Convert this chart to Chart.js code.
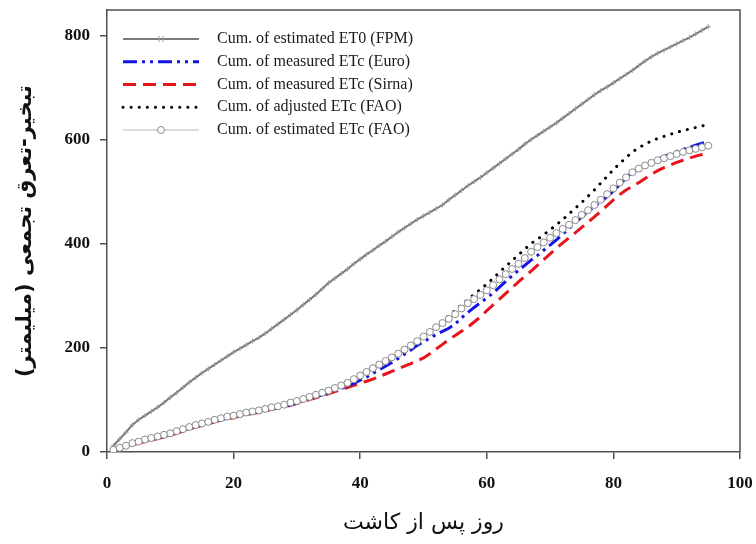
<!DOCTYPE html>
<html lang="fa">
<head>
<meta charset="UTF-8">
<title>Cumulative ET</title>
<script src="https://cdn.jsdelivr.net/npm/chart.js"></script>
<style>
  html, body { margin: 0; padding: 0; background: #fff; }
  #wrap { width: 756px; height: 544px; }
</style>
</head>
<body>
<div id="wrap"><canvas id="etChart" width="756" height="544"></canvas></div>
<script>
// days after planting
const days = [1,2,3,4,5,6,7,8,9,10,11,12,13,14,15,16,17,18,19,20,
  21,22,23,24,25,26,27,28,29,30,31,32,33,34,35,36,37,38,39,40,
  41,42,43,44,45,46,47,48,49,50,51,52,53,54,55,56,57,58,59,60,
  61,62,63,64,65,66,67,68,69,70,71,72,73,74,75,76,77,78,79,80,
  81,82,83,84,85,86,87,88,89,90,91,92,93,94,95];

// cumulative values (mm)
const et0Fpm = [12,25,38,52,62,70,78,86,95,105,114,124,134,143,152,160,168,176,184,192,
  199,206,213,220,228,237,246,255,264,273,283,293,303,314,325,334,343,352,362,371,
  380,388,397,405,414,423,431,439,447,454,461,468,475,485,494,503,512,520,528,537,
  546,555,564,573,582,592,601,609,617,625,633,642,651,660,669,678,687,695,702,710,
  718,726,734,743,752,760,767,773,779,785,791,797,804,811,818];

const etcEuro = [3,6,10,14,18,21,24,27,30,33,37,41,45,49,52,55,59,62,65,67,
  70,73,75,77,80,83,85,88,91,94,98,102,106,110,114,118,122,127,132,138,
  144,151,158,165,172,180,188,196,205,212,219,226,232,238,246,258,268,278,287,296,
  306,317,328,339,349,359,369,378,388,398,408,419,430,441,452,462,472,481,491,502,
  514,527,538,546,552,558,563,568,573,578,582,586,590,594,597];

const etcSirna = [2,6,10,13,17,20,23,26,29,32,36,40,44,48,51,54,58,61,64,66,
  69,72,74,76,79,82,84,87,90,93,97,101,104,108,112,116,120,124,128,132,
  136,140,145,150,155,160,165,170,175,181,189,198,207,216,224,232,240,250,260,272,
  283,294,305,316,327,338,348,359,370,381,392,402,412,422,432,442,452,463,474,485,
  495,504,511,518,526,534,541,547,552,557,561,565,569,572,575];

const etcAdjFao = [3,7,11,15,18,22,25,28,31,34,38,42,46,50,53,56,60,63,66,68,
  71,74,76,78,81,84,86,89,93,96,100,104,108,112,116,121,126,131,138,145,
  152,159,166,173,180,188,196,205,214,224,233,243,252,262,272,283,293,303,313,323,
  334,346,357,368,379,390,401,409,418,427,437,447,458,469,480,492,504,517,530,543,
  555,566,577,585,592,598,603,607,611,615,618,621,624,627,630];

const etcEstFao = [4,8,12,17,20,24,27,30,33,36,40,44,48,52,55,58,62,65,68,70,
  73,76,78,80,83,86,88,91,95,98,102,106,110,114,118,123,128,133,140,147,
  154,161,168,175,182,189,197,205,213,222,231,240,248,256,265,276,286,294,302,311,
  321,332,342,352,362,373,385,394,403,412,421,429,437,446,456,465,475,485,496,507,
  518,528,538,545,551,556,561,565,569,573,577,580,583,586,589];

const seriesLabels = [
  'Cum. of estimated ET0 (FPM)',
  'Cum. of measured ETc (Euro)',
  'Cum. of measured ETc (Sirna)',
  'Cum. of adjusted ETc (FAO)',
  'Cum. of estimated ETc (FAO)'
];

const xTicks = [0, 20, 40, 60, 80, 100];
const yTicks = [0, 200, 400, 600, 800];

const xTitle = 'روز پس از کاشت';
const yTitle = '\u200Fتبخیر-تعرق تجمعی (میلیمتر)\u200F';

function toPoints(vals) {
  return vals.map((v, i) => ({ x: days[i], y: v }));
}

// box around the plot (top and right sides)
const frame = {
  id: 'frame',
  afterDatasetsDraw(chart) {
    const { ctx, chartArea: a } = chart;
    ctx.save();
    ctx.strokeStyle = '#505050';
    ctx.lineWidth = 1.5;
    ctx.beginPath();
    ctx.moveTo(a.left, a.top);
    ctx.lineTo(a.right, a.top);
    ctx.lineTo(a.right, a.bottom);
    ctx.stroke();
    ctx.restore();
  }
};

// legend inside the plot, upper left
const insideLegend = {
  id: 'insideLegend',
  afterDraw(chart) {
    const ctx = chart.ctx;
    const x0 = 123, x1 = 199, tx = 217, y0 = 39, dy = 22.75;
    ctx.save();
    chart.data.datasets.forEach((ds, i) => {
      const y = y0 + i * dy;
      ctx.beginPath();
      ctx.strokeStyle = ds.borderColor;
      ctx.lineWidth = ds.borderWidth;
      ctx.lineCap = ds.borderCapStyle || 'butt';
      ctx.setLineDash(ds.borderDash || []);
      ctx.moveTo(x0, y);
      ctx.lineTo(x1, y);
      ctx.stroke();
      ctx.setLineDash([]);
      ctx.lineCap = 'butt';
      const mx = (x0 + x1) / 2;
      if (ds.pointStyle === 'circle') {
        ctx.beginPath();
        ctx.arc(mx, y, 3.5, 0, Math.PI * 2);
        ctx.fillStyle = '#fff';
        ctx.fill();
        ctx.lineWidth = 1;
        ctx.strokeStyle = ds.pointBorderColor;
        ctx.stroke();
      } else if (ds.pointStyle === 'cross') {
        ctx.beginPath();
        ctx.lineWidth = 1;
        ctx.strokeStyle = ds.pointBorderColor;
        ctx.moveTo(mx - 2, y - 3); ctx.lineTo(mx - 2, y + 3);
        ctx.moveTo(mx + 2, y - 3); ctx.lineTo(mx + 2, y + 3);
        ctx.stroke();
      }
      ctx.fillStyle = '#1a1a1a';
      ctx.font = '16px "Liberation Serif"';
      ctx.textAlign = 'left';
      ctx.textBaseline = 'middle';
      ctx.fillText(ds.label, tx, y);
    });
    ctx.restore();
  }
};

const tickFont = { family: '"Liberation Serif"', size: 17, weight: 'bold' };

new Chart(document.getElementById('etChart'), {
  type: 'line',
  data: {
    datasets: [
      {
        label: seriesLabels[0],
        data: toPoints(et0Fpm),
        borderColor: '#7a7a7a',
        borderWidth: 2,
        pointStyle: 'cross',
        pointRadius: 2.5,
        pointBorderColor: '#9a9a9a',
        pointBorderWidth: 1,
        order: 1
      },
      {
        label: seriesLabels[1],
        data: toPoints(etcEuro),
        borderColor: '#1414e6',
        borderWidth: 3,
        borderDash: [14, 5, 3, 5, 3, 5],
        pointRadius: 0,
        order: 2
      },
      {
        label: seriesLabels[2],
        data: toPoints(etcSirna),
        borderColor: '#e8141c',
        borderWidth: 3,
        borderDash: [13, 7],
        pointRadius: 0,
        order: 3
      },
      {
        label: seriesLabels[3],
        data: toPoints(etcAdjFao),
        borderColor: '#000000',
        borderWidth: 3,
        borderDash: [0.1, 8],
        borderCapStyle: 'round',
        pointRadius: 0,
        order: 4
      },
      {
        label: seriesLabels[4],
        data: toPoints(etcEstFao),
        borderColor: '#b8b8b8',
        borderWidth: 1,
        pointStyle: 'circle',
        pointRadius: 3.5,
        pointBackgroundColor: '#ffffff',
        pointBorderColor: '#8a8a8a',
        pointBorderWidth: 1,
        order: 0
      }
    ]
  },
  options: {
    responsive: false,
    animation: false,
    devicePixelRatio: 1,
    layout: { padding: { top: 10, right: 16, left: 0, bottom: 0 } },
    plugins: {
      legend: { display: false },
      tooltip: { enabled: false }
    },
    scales: {
      x: {
        type: 'linear',
        min: 0,
        max: 100,
        afterBuildTicks(s) { s.ticks = xTicks.map(v => ({ value: v })); },
        afterFit(s) {
          s.height = 92;
          s.paddingLeft = 0;
          s.paddingRight = 0;
        },
        grid: { drawOnChartArea: false, drawTicks: true, tickLength: 7, color: '#505050', lineWidth: 1.5 },
        border: { color: '#505050', width: 1.5 },
        ticks: { font: tickFont, color: '#111', padding: 14, maxRotation: 0 },
        title: {
          display: true,
          text: xTitle,
          font: { family: '"DejaVu Sans"', size: 22 },
          color: '#111',
          padding: { top: 0, bottom: 8 }
        }
      },
      y: {
        min: 0,
        max: 850,
        afterBuildTicks(s) { s.ticks = yTicks.map(v => ({ value: v })); },
        afterFit(s) {
          s.width = 107;
          s.paddingTop = 0;
          s.paddingBottom = 0;
        },
        grid: { drawOnChartArea: false, drawTicks: true, tickLength: 7, color: '#505050', lineWidth: 1.5 },
        border: { color: '#505050', width: 1.5 },
        ticks: { font: tickFont, color: '#111', padding: 10 },
        title: {
          display: true,
          text: yTitle,
          font: { family: '"DejaVu Sans"', size: 21, weight: 'bold' },
          color: '#111',
          padding: { top: 13, bottom: 0 }
        }
      }
    }
  },
  plugins: [frame, insideLegend]
});
</script>
</body>
</html>
